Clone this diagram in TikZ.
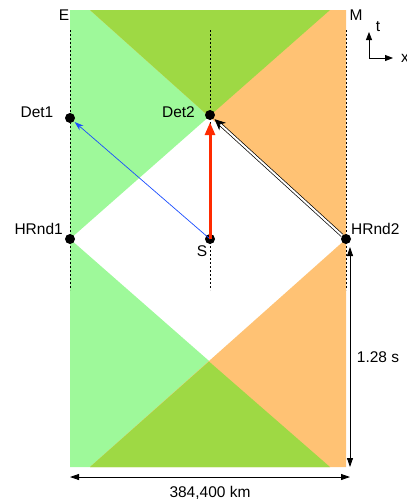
\documentclass[tikz,border=0pt]{standalone}
\usepackage{fontspec}
\setmainfont{Liberation Sans}
\usetikzlibrary{arrows.meta}
\definecolor{lgreen}{HTML}{9EF99A}
\definecolor{lorange}{HTML}{FFC274}
\definecolor{dgreen}{HTML}{9ED944}
\definecolor{ared}{HTML}{FF2A00}
\definecolor{ablue}{HTML}{1A4DFF}
\begin{document}
\begin{tikzpicture}[x=1pt,y=-1pt,
  lbl/.style={inner sep=0pt,font=\fontsize{15.5}{18}\selectfont},
  dot/.style={circle,fill=black,inner sep=0pt,minimum size=10pt},
  wline/.style={dash pattern=on 2pt off 2pt,line width=0.6pt},
  dim/.style={line width=0.8pt,{Triangle[length=9pt,width=6pt]}-{Triangle[length=9pt,width=6pt]}}]
\useasboundingbox (0,0) rectangle (407,504);
% regions
\fill[lgreen] (70,10) -- (330,10) -- (70,239) -- (330,467) -- (70,467) -- cycle;
\fill[lorange] (346,10) -- (90,10) -- (346,239) -- (90,467) -- (346,467) -- cycle;
\fill[dgreen] (90,10) -- (330,10) -- (209,116.5) -- cycle;
\fill[dgreen] (90,467) -- (330,467) -- (209,361.5) -- cycle;
% world lines
\coordinate (e1) at (70,30); \coordinate (e2) at (70,290);
\coordinate (s1) at (210,30); \coordinate (s2) at (210,290);
\coordinate (m1) at (346,30); \coordinate (m2) at (346,290);
\draw[wline] (e1) -- (e2);
\draw[wline] (s1) -- (s2);
\draw[wline] (m1) -- (m2);
% events
\node[dot] (Det1) at (70,118) {};
\node[dot] (Det2) at (210,115) {};
\node[dot] (HRnd1) at (70,239) {};
\node[dot] (S) at (210,239) {};
\node[dot] (HRnd2) at (346,239) {};
% signals
\draw[ablue,line width=0.7pt,-{Stealth[length=9pt,width=6pt]},shorten >=1pt] (S.center) -- (Det1);
\draw[ared,line width=3pt,-{Triangle[length=13pt,width=10pt]},shorten >=2pt] (S.center) -- (Det2);
\draw[double,double distance=2pt,line width=0.7pt,-{Stealth[length=11pt,width=10pt]},shorten >=1pt] (HRnd2) -- (Det2);
% labels
\node[lbl] (tE) at (64,15) {E};
\node[lbl] (tM) at (356,15) {M};
\node[lbl,anchor=east] (tD1) at (53.5,112) {Det1};
\node[lbl,anchor=east] (tD2) at (195,112) {Det2};
\node[lbl,anchor=east] (tH1) at (63,229) {HRnd1};
\node[lbl,anchor=west] (tH2) at (351,229) {HRnd2};
\node[lbl] (tS) at (202,251) {S};
% dimensions
\coordinate (v1) at (350,247); \coordinate (v2) at (350,467);
\draw[dim] (v1) -- (v2);
\node[lbl] (tT) at (378,357) {1.28 s};
\coordinate (h1) at (70,477); \coordinate (h2) at (350,477);
\draw[dim] (h1) -- (h2);
\node[lbl] (tX) at (210,493) {384,400 km};
% axes
\coordinate (o) at (369,58); \coordinate (ot) at (369,32); \coordinate (ox) at (393,58);
\draw[line width=0.8pt,-{Triangle[length=8pt,width=6pt]}] (o) -- (ot);
\draw[line width=0.8pt,-{Triangle[length=8pt,width=6pt]}] (o) -- (ox);
\node[lbl] (tt) at (378,27) {t};
\node[lbl,anchor=west] (tx) at (401,58) {x};
\end{tikzpicture}
\end{document}
